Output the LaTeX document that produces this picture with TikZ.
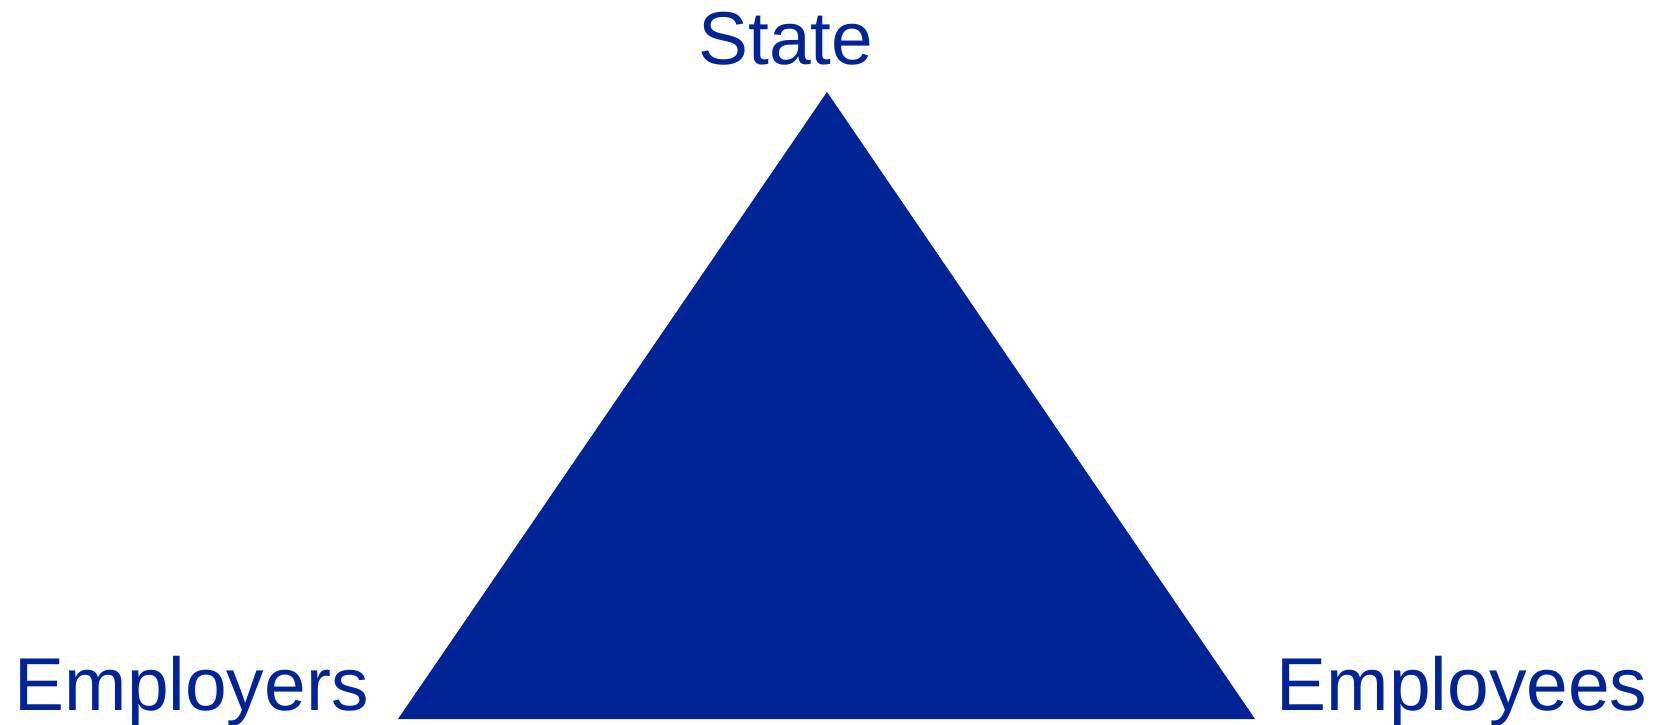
\documentclass[tikz,border=0pt]{standalone}
\usepackage{fontspec}
\setmainfont{Liberation Sans}
\usepackage{tikz}
\usetikzlibrary{positioning,calc}
\definecolor{partyblue}{RGB}{0,35,149}
\tikzset{party/.style={font=\fontsize{21.3}{24}\selectfont, text=partyblue, inner sep=0pt}}

\begin{document}
\begin{tikzpicture}[x=0.01cm, y=-0.01cm]
  \useasboundingbox (0,0) rectangle (1655,725);
  \coordinate (top) at (827,92);
  \coordinate (left) at (398,719);
  \coordinate (right) at (1255,719);
  \fill[partyblue] (top) -- (left) -- (right) -- cycle;
  \node[party, anchor=base] (state) at (786,65) {State};
  \node[party, anchor=base west] (employers) at (14,710) {Employers};
  \node[party, anchor=base west] (employees) at (1276,710) {Employees};
\end{tikzpicture}
\end{document}
